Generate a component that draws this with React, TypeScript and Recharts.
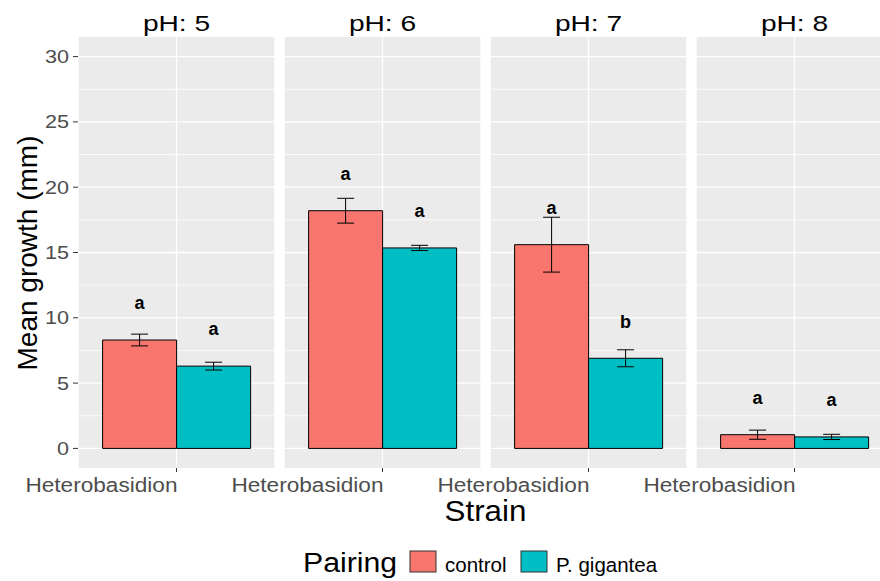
import { Bar, BarChart, CartesianGrid, ErrorBar, LabelList, XAxis, YAxis } from "recharts";

// Mean radial growth per pH level, with standard errors and group letters
const phLevels = ["pH: 5", "pH: 6", "pH: 7", "pH: 8"];
const strainName = "Heterobasidion";
const controlMean = [8.3, 18.2, 15.6, 1.05];
const controlSe = [0.45, 0.95, 2.1, 0.35];
const giganteaMean = [6.3, 15.35, 6.9, 0.88];
const giganteaSe = [0.3, 0.2, 0.65, 0.2];
const controlLetters = ["a", "a", "a", "a"];
const giganteaLetters = ["a", "a", "b", "a"];
const majorTicks = [0, 5, 10, 15, 20, 25, 30];
const minorTicks = [2.5, 7.5, 12.5, 17.5, 22.5, 27.5];
const pairings = ["control", "P. gigantea"];

const COLORS = ["#F8766D", "#00BFC4"];
const FONT = "'Liberation Sans', Arial, sans-serif";
const PANEL_W = 197;
const PANEL_GAP = 9;
const AXIS_W = 78;
const CHART_H = 500;
const XAXIS_H = 32;
const LETTER_OFFSET = 2.35; // in mm above the bar top

const panels = phLevels.map((ph, i) => ({
  ph,
  rows: [
    {
      strain: strainName,
      control: controlMean[i],
      controlSe: controlSe[i],
      gigantea: giganteaMean[i],
      giganteaSe: giganteaSe[i],
    },
  ],
  letters: [controlLetters[i], giganteaLetters[i]],
}));

function YTick(props: any) {
  const { x, y, payload } = props;
  return (
    <text
      transform={`translate(${x} ${y}) scale(1.2 1)`}
      textAnchor="end"
      dy="0.36em"
      fontSize={18}
      fontFamily={FONT}
      fill="#4D4D4D"
    >
      {payload.value}
    </text>
  );
}

// strain labels sit right-aligned against their tick
function XTick(props: any) {
  const { x, y, payload } = props;
  return (
    <text
      transform={`translate(${x + 1} ${y + 18}) scale(1.16 1)`}
      textAnchor="end"
      fontSize={19.5}
      fontFamily={FONT}
      fill="#4D4D4D"
    >
      {payload.value}
    </text>
  );
}

function letterLabel(letter: string) {
  return (props: any) => {
    const box = props.viewBox ?? props;
    const h = Math.abs(box.height);
    const v = Number(props.value);
    const perUnit = v ? h / v : 0;
    const top = Math.min(box.y, box.y + box.height);
    return (
      <text
        x={box.x + box.width / 2}
        y={top - LETTER_OFFSET * perUnit}
        textAnchor="middle"
        fontSize={18}
        fontWeight="bold"
        fontFamily={FONT}
        fill="#000"
      >
        {letter}
      </text>
    );
  };
}

function Panel({ index }: { index: number }) {
  const panel = panels[index];
  const first = index === 0;
  const width = first ? AXIS_W + PANEL_W : PANEL_W;
  const left = first ? 0 : AXIS_W + index * (PANEL_W + PANEL_GAP);
  return (
    <div style={{ position: "absolute", left, top: 0 }}>
      <BarChart
        width={width}
        height={CHART_H}
        data={panel.rows}
        margin={{ top: 37, right: 0, left: 0, bottom: 0 }}
        barCategoryGap={24.6}
        barGap={0}
      >
        <CartesianGrid
          fill="#EBEBEB"
          stroke="#FFFFFF"
          strokeWidth={0.8}
          vertical={false}
          horizontalValues={minorTicks}
        />
        <CartesianGrid stroke="#FFFFFF" strokeWidth={1.3} horizontalValues={majorTicks} />
        <XAxis
          dataKey="strain"
          height={XAXIS_H}
          axisLine={false}
          tickLine={{ stroke: "#333333" }}
          tickSize={4}
          tickMargin={2}
          interval={0}
          tick={<XTick />}
        />
        <YAxis
          type="number"
          domain={[-1.5, 31.5]}
          ticks={majorTicks}
          allowDataOverflow
          hide={!first}
          width={AXIS_W}
          axisLine={false}
          tickLine={{ stroke: "#333333" }}
          tickSize={5}
          tickMargin={4}
          tick={<YTick />}
        />
        <Bar dataKey="control" fill={COLORS[0]} stroke="#000" strokeWidth={1} isAnimationActive={false}>
          <ErrorBar dataKey="controlSe" direction="y" width={8.5} stroke="#000" strokeWidth={1} />
          <LabelList dataKey="control" content={letterLabel(panel.letters[0])} />
        </Bar>
        <Bar dataKey="gigantea" fill={COLORS[1]} stroke="#000" strokeWidth={1} isAnimationActive={false}>
          <ErrorBar dataKey="giganteaSe" direction="y" width={8.5} stroke="#000" strokeWidth={1} />
          <LabelList dataKey="gigantea" content={letterLabel(panel.letters[1])} />
        </Bar>
      </BarChart>
    </div>
  );
}

export default function App() {
  const plotLeft = AXIS_W;
  const plotRight = AXIS_W + 4 * PANEL_W + 3 * PANEL_GAP;
  return (
    <div style={{ position: "relative", width: 880, height: 581, overflow: "hidden", background: "#fff" }}>
      <style>{"body{margin:0} .recharts-surface{overflow:visible}"}</style>
      {panels.map((_, i) => (
        <Panel key={i} index={i} />
      ))}
      <svg
        width={880}
        height={581}
        style={{ position: "absolute", left: 0, top: 0, pointerEvents: "none" }}
        fontFamily={FONT}
      >
        {panels.map((p, i) => (
          <text
            key={p.ph}
            transform={`translate(${plotLeft + i * (PANEL_W + PANEL_GAP) + PANEL_W / 2} 31) scale(1.25 1)`}
            textAnchor="middle"
            fontSize={22.5}
            fill="#000"
          >
            {p.ph}
          </text>
        ))}
        <text transform="translate(37 253) rotate(-90)" textAnchor="middle" fontSize={28} fill="#000">
          Mean growth (mm)
        </text>
        <text
          transform={`translate(${(plotLeft + plotRight) / 2} 521) scale(1.08 1)`}
          textAnchor="middle"
          fontSize={29}
          fill="#000"
        >
          Strain
        </text>
        <text transform="translate(303 572) scale(1.12 1)" fontSize={27} fill="#000">
          Pairing
        </text>
        {pairings.map((name, i) => {
          const kx = i === 0 ? 410 : 521;
          return (
            <g key={name}>
              <rect x={kx} y={551} width={26} height={21} fill={COLORS[i]} stroke="#333" strokeWidth={1} />
              <text x={kx + 35} y={572} fontSize={20.5} fill="#000">
                {name}
              </text>
            </g>
          );
        })}
      </svg>
    </div>
  );
}
